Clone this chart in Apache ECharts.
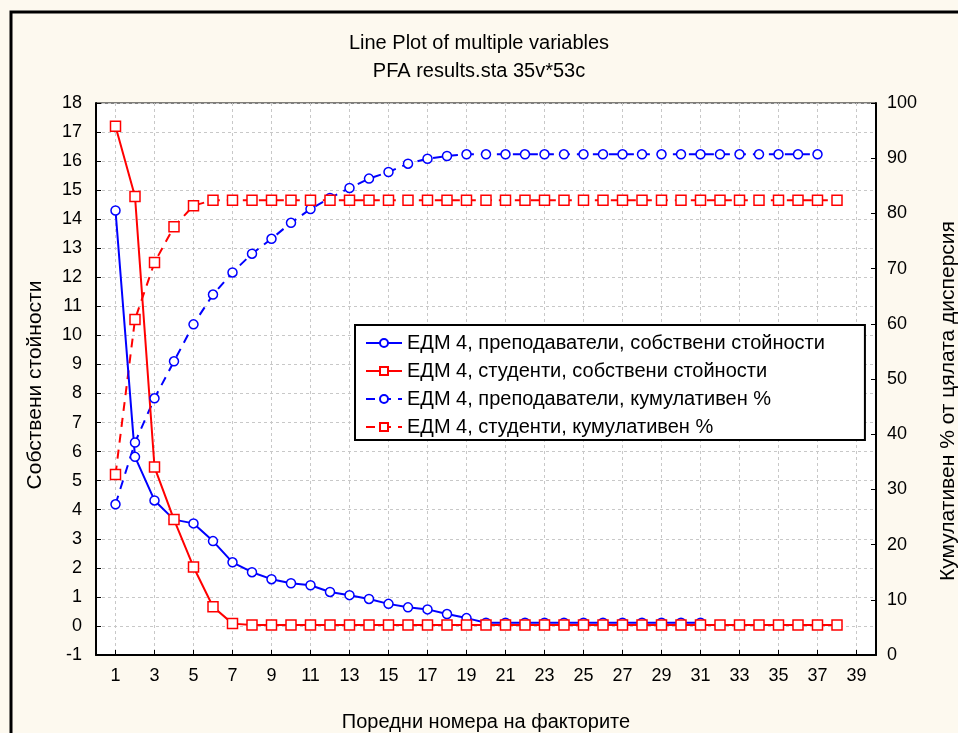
<!DOCTYPE html>
<html>
<head>
<meta charset="utf-8">
<title>Line Plot of multiple variables</title>
<script src="https://cdn.jsdelivr.net/npm/echarts@6/dist/echarts.min.js"></script>
<style>
  html, body { margin: 0; padding: 0; background: #fdf9ef; }
  #chart { width: 958px; height: 733px; }
</style>
</head>
<body>
<div id="chart"></div>
<script>
const factors = [1, 2, 3, 4, 5, 6, 7, 8, 9, 10, 11, 12, 13, 14, 15, 16, 17, 18, 19, 20,
  21, 22, 23, 24, 25, 26, 27, 28, 29, 30, 31, 32, 33, 34, 35, 36, 37, 38]
const xTicks = [1, 3, 5, 7, 9, 11, 13, 15, 17, 19, 21, 23, 25, 27, 29, 31, 33, 35, 37, 39]

const teachersEigen = [14.3, 5.82, 4.32, 3.66, 3.53, 2.92, 2.19, 1.85, 1.61, 1.47,
  1.4, 1.17, 1.06, 0.93, 0.76, 0.64, 0.57, 0.41, 0.27, 0.11,
  0.11, 0.11, 0.11, 0.11, 0.11, 0.11, 0.11, 0.11, 0.11, 0.11, 0.11]
const studentsEigen = [17.2, 14.78, 5.47, 3.66, 2.03, 0.66, 0.08, 0.03, 0.03, 0.03,
  0.03, 0.03, 0.03, 0.03, 0.03, 0.03, 0.03, 0.03, 0.03, 0.03,
  0.03, 0.03, 0.03, 0.03, 0.03, 0.03, 0.03, 0.03, 0.03, 0.03,
  0.03, 0.03, 0.03, 0.03, 0.03, 0.03, 0.03, 0.03]
const teachersCum = [27.3, 38.5, 46.5, 53.2, 59.9, 65.3, 69.3, 72.7, 75.4, 78.3,
  80.8, 82.8, 84.6, 86.3, 87.5, 89.0, 89.9, 90.4, 90.7, 90.7,
  90.7, 90.7, 90.7, 90.7, 90.7, 90.7, 90.7, 90.7, 90.7, 90.7,
  90.7, 90.7, 90.7, 90.7, 90.7, 90.7, 90.7]
const studentsCum = [32.7, 60.8, 71.1, 77.6, 81.4, 82.4, 82.4, 82.4, 82.4, 82.4,
  82.4, 82.4, 82.4, 82.4, 82.4, 82.4, 82.4, 82.4, 82.4, 82.4,
  82.4, 82.4, 82.4, 82.4, 82.4, 82.4, 82.4, 82.4, 82.4, 82.4,
  82.4, 82.4, 82.4, 82.4, 82.4, 82.4, 82.4, 82.4]

const seriesNames = [
  'ЕДМ 4, преподаватели, собствени стойности',
  'ЕДМ 4, студенти, собствени стойности',
  'ЕДМ 4, преподаватели, кумулативен %',
  'ЕДМ 4, студенти, кумулативен %'
]

const font = 'Liberation Sans, Arial, sans-serif'
const pairs = (vals) => vals.map((v, i) => [factors[i], v])

const makeSeries = (name, vals, color, symbol, size, dashed, yIndex) => ({
  name,
  type: 'line',
  yAxisIndex: yIndex,
  data: pairs(vals),
  symbol,
  symbolSize: size,
  showAllSymbol: true,
  lineStyle: { color, width: 2, type: dashed ? [9, 7] : 'solid' },
  itemStyle: { color: '#fff', borderColor: color, borderWidth: 1.5 },
  emphasis: { disabled: true },
  animation: false
})

const chart = echarts.init(document.getElementById('chart'))
chart.setOption({
  backgroundColor: '#fdf9ef',
  textStyle: { fontFamily: font },
  graphic: [
    {
      type: 'rect',
      shape: { x: 11, y: 12, width: 1000, height: 800 },
      style: { fill: 'none', stroke: '#000', lineWidth: 3 },
      silent: true
    }
  ],
  title: {
    text: 'Line Plot of multiple variables',
    subtext: 'PFA results.sta 35v*53c',
    left: 'center',
    top: 28,
    itemGap: 8,
    textStyle: { fontFamily: font, fontSize: 20, fontWeight: 'normal', color: '#000' },
    subtextStyle: { fontFamily: font, fontSize: 20, color: '#000' }
  },
  legend: {
    orient: 'vertical',
    left: 355,
    top: 325,
    itemWidth: 36,
    itemHeight: 10,
    itemGap: 8,
    padding: [8, 40, 3, 10],
    backgroundColor: '#fff',
    borderColor: '#000',
    borderWidth: 2,
    borderRadius: 0,
    textStyle: { fontFamily: font, fontSize: 20, color: '#000' },
    data: seriesNames
  },
  grid: {
    left: 96,
    top: 103,
    right: 82,
    bottom: 78,
    outerBoundsMode: 'none',
    show: true,
    backgroundColor: '#fff',
    borderColor: '#000',
    borderWidth: 1
  },
  xAxis: {
    type: 'value',
    min: 0,
    max: 40,
    name: 'Поредни номера на факторите',
    nameLocation: 'middle',
    nameGap: 57,
    nameTextStyle: { fontFamily: font, fontSize: 20, color: '#000' },
    axisLine: { onZero: false, lineStyle: { color: '#000', width: 2 } },
    axisTick: { inside: true, length: 5, lineStyle: { color: '#000' }, customValues: xTicks },
    axisLabel: { fontFamily: font, fontSize: 18, color: '#000', margin: 12, customValues: xTicks },
    splitLine: { show: true, lineStyle: { color: '#c8c8c8', type: [3, 3] } }
  },
  yAxis: [
    {
      type: 'value',
      min: -1,
      max: 18,
      interval: 1,
      name: 'Собствени стойности',
      nameLocation: 'middle',
      nameRotate: 90,
      nameGap: 50,
      nameTextStyle: { fontFamily: font, fontSize: 21, color: '#000', padding: [0, 12, 0, 0] },
      axisLine: { onZero: false, lineStyle: { color: '#000', width: 2 } },
      axisTick: { inside: true, length: 5, lineStyle: { color: '#000' } },
      axisLabel: { fontFamily: font, fontSize: 18, color: '#000', margin: 14 },
      splitLine: { show: true, lineStyle: { color: '#c8c8c8', type: [3, 3] } }
    },
    {
      type: 'value',
      min: 0,
      max: 100,
      interval: 10,
      alignTicks: false,
      name: 'Кумулативен % от цялата дисперсия',
      nameLocation: 'middle',
      nameRotate: 90,
      nameGap: 62,
      nameTextStyle: { fontFamily: font, fontSize: 21, color: '#000', padding: [0, 44, 0, 0] },
      axisLine: { show: true, onZero: false, lineStyle: { color: '#000', width: 2 } },
      axisTick: { inside: true, length: 5, lineStyle: { color: '#000' } },
      axisLabel: { fontFamily: font, fontSize: 18, color: '#000', margin: 11 },
      splitLine: { show: false }
    }
  ],
  series: [
    makeSeries(seriesNames[2], teachersCum, '#0000ff', 'circle', 9, true, 1),
    makeSeries(seriesNames[3], studentsCum, '#ff0000', 'rect', 10, true, 1),
    makeSeries(seriesNames[0], teachersEigen, '#0000ff', 'circle', 9, false, 0),
    makeSeries(seriesNames[1], studentsEigen, '#ff0000', 'rect', 10, false, 0)
  ]
})
</script>
</body>
</html>
